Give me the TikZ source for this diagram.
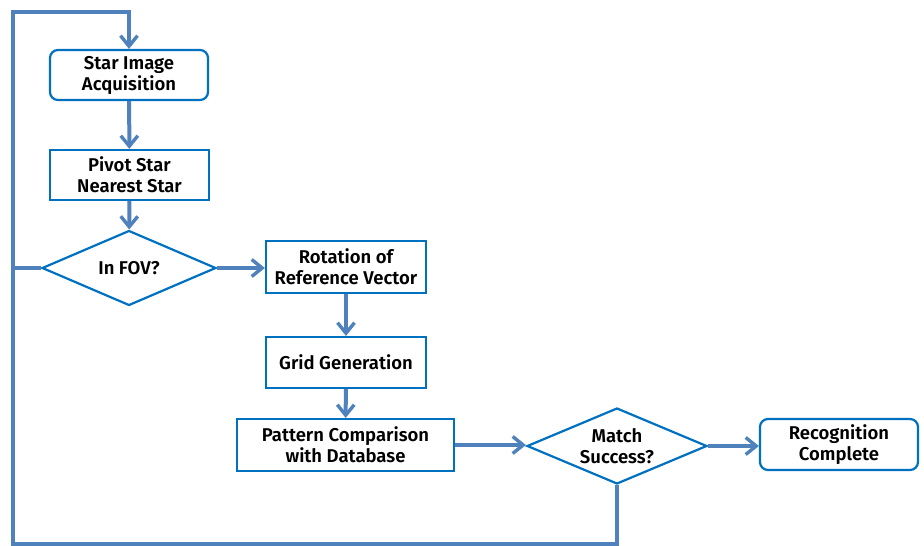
\documentclass[tikz,border=0pt]{standalone}
\usepackage{fontspec}
\setmainfont{Fira Sans}[BoldFont={Fira Sans SemiBold}]
\usetikzlibrary{arrows.meta,shapes.geometric}
\definecolor{boxblue}{RGB}{0,112,192}
\definecolor{lineblue}{RGB}{79,129,189}
\begin{document}
\begin{tikzpicture}[x=1pt,y=-1pt,
  every node/.style={font=\fontsize{18.5}{21}\selectfont\bfseries, align=center, text=black},
  procbox/.style={draw=boxblue, line width=2.2pt, inner sep=0pt, fill=white},
  roundbox/.style={procbox, rounded corners=8pt},
  decision/.style={draw=boxblue, line width=2.2pt, diamond, aspect=2.3, inner sep=0pt, fill=white},
  flow/.style={draw=lineblue, line width=4pt, -{Straight Barb[length=10.5pt,width=17pt,line width=3.4pt]}},
  plain/.style={draw=lineblue, line width=4pt}]
\useasboundingbox (0,0) rectangle (924,546);
\node[roundbox, minimum width=158pt, minimum height=50pt] (sia) at (129,75) {Star Image\\Acquisition};
\node[procbox, minimum width=159pt, minimum height=50pt] (psn) at (129.5,175) {Pivot Star\\Nearest Star};
\node[decision, minimum width=174pt, minimum height=75pt] (fov) at (129,268) {In FOV?};
\node[procbox, minimum width=160pt, minimum height=52pt] (rot) at (346,267) {Rotation of\\Reference Vector};
\node[procbox, minimum width=160pt, minimum height=51pt] (grid) at (346,362.5) {Grid Generation};
\node[procbox, minimum width=217pt, minimum height=52pt] (pat) at (345.5,445) {Pattern Comparison\\with Database};
\node[decision, minimum width=180pt, minimum height=76pt] (match) at (617,446) {Match\\Success?};
\node[roundbox, minimum width=158pt, minimum height=51pt] (rec) at (839,444.5) {Recognition\\Complete};
\coordinate (bl) at (13,544);
\coordinate (tl) at (13,12);
\coordinate (fl) at (13,268);
\coordinate (mb) at (617,544);
\draw[flow] (sia) -- (psn);
\draw[flow] (psn) -- (fov);
\draw[flow] (fov.east) -- (fov.east -| rot.west);
\draw[flow] (rot) -- (grid);
\draw[flow] (grid) -- (pat);
\draw[flow] (pat.east) -- (pat.east -| match.west);
\draw[flow] (match.east) -- (match.east -| rec.west);
\draw[plain] (fov.west) -- (fl);
\draw[flow, line join=miter] (match.south) -- (mb) -- (bl) -- (tl) -| (sia.north);
\end{tikzpicture}
\end{document}
